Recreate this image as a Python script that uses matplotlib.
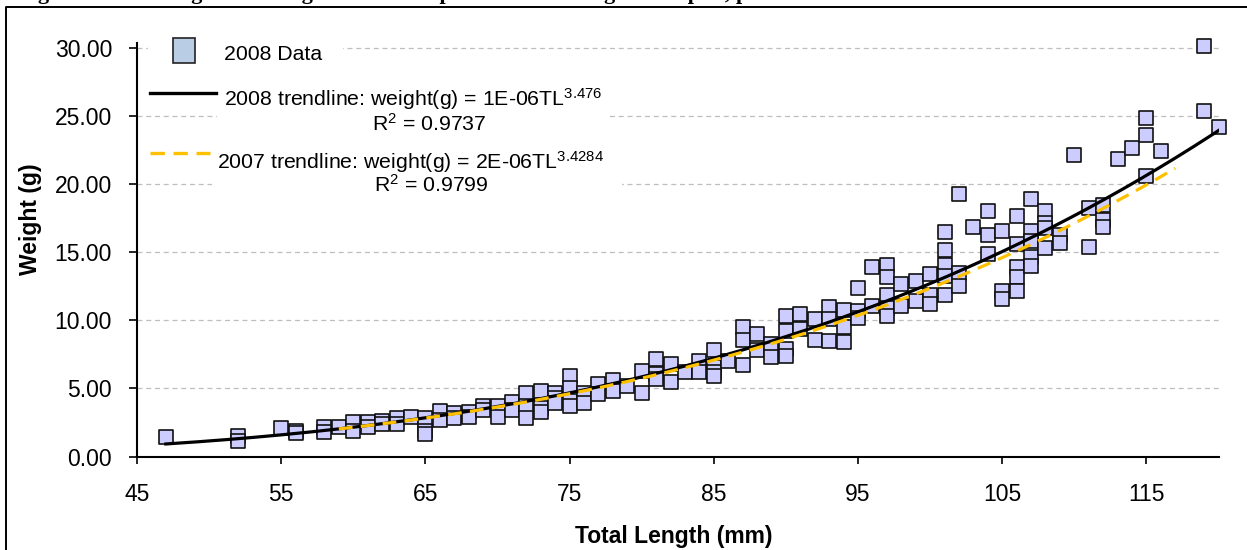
import matplotlib
matplotlib.use("Agg")
import matplotlib.pyplot as plt
import numpy as np
from matplotlib.patches import Rectangle
from matplotlib.lines import Line2D

plt.rcParams['font.family'] = ['Liberation Sans', 'DejaVu Sans']
plt.rcParams['mathtext.fontset'] = 'custom'
plt.rcParams['mathtext.rm'] = 'Liberation Sans'
plt.rcParams['mathtext.it'] = 'Liberation Sans'
plt.rcParams['mathtext.bf'] = 'Liberation Sans:bold'
plt.rcParams['mathtext.default'] = 'regular'

# ---------------- data ----------------
total_length_mm = [
    47, 52, 52, 55, 56, 56, 58, 58, 59, 60, 60, 61, 61, 62, 62, 63, 63, 64,
    65, 65, 65, 66, 66, 67, 67, 68, 68, 69, 69, 70, 70, 71, 71,
    72, 72, 72, 73, 73, 73, 74, 74, 74, 75, 75, 75, 75, 76, 76, 77, 77,
    78, 78, 79, 80, 80, 81, 81, 81, 82, 82, 83, 84, 84, 85, 85, 85, 85,
    86, 87, 87, 87, 88, 88, 89, 89, 90, 90, 90, 90, 91, 91, 92, 92,
    93, 93, 93, 94, 94, 94, 95, 95, 95, 96, 96, 97, 97, 97, 97, 97,
    98, 98, 99, 99, 100, 100, 100, 101, 101, 101, 101, 101, 102, 102, 102,
    103, 104, 104, 104, 105, 105, 105, 106, 106, 106, 106, 106,
    107, 107, 107, 107, 107, 108, 108, 108, 108, 109, 109, 110, 111, 111,
    112, 112, 112, 113, 114, 115, 115, 115, 116, 119, 119, 120,
]
weight_g = [
    1.47, 1.49, 1.17, 2.10, 1.90, 1.70, 2.20, 1.80, 2.15, 2.50, 1.90, 2.50, 2.20, 2.60, 2.40, 2.80, 2.40, 2.90,
    2.80, 1.90, 1.65, 3.35, 2.65, 3.20, 2.80, 3.30, 2.90, 3.70, 3.40, 3.70, 2.90, 4.00, 3.40,
    4.70, 3.70, 2.80, 4.80, 3.60, 3.25, 4.70, 4.30, 3.90, 5.90, 5.00, 4.10, 3.70, 4.70, 3.90, 5.30, 4.60,
    5.60, 4.80, 5.20, 6.30, 4.70, 7.20, 6.10, 5.70, 6.80, 5.50, 6.20, 7.00, 6.20, 7.80, 6.55, 6.20, 5.90,
    7.00, 9.50, 8.60, 6.70, 9.00, 7.80, 8.30, 7.30, 10.30, 9.20, 7.90, 7.40, 10.50, 9.40, 10.10, 8.60,
    11.00, 10.10, 8.50, 10.80, 9.50, 8.40, 12.40, 10.70, 10.20, 13.90, 11.10, 14.10, 13.20, 11.90, 10.95, 10.30,
    12.70, 11.10, 12.90, 11.40, 13.40, 11.90, 11.20, 16.50, 15.20, 14.10, 13.30, 11.90, 19.30, 13.50, 12.50,
    16.90, 18.05, 16.30, 14.90, 16.60, 12.20, 11.60, 17.70, 15.60, 13.90, 13.20, 12.20,
    18.90, 16.60, 15.85, 14.70, 14.00, 18.05, 17.20, 16.80, 15.30, 16.30, 15.70, 22.15, 18.30, 15.40,
    18.50, 17.40, 16.90, 21.90, 22.70, 24.90, 23.60, 20.60, 22.45, 30.20, 25.40, 24.20,
]

# power trendlines  weight = a * TL^b
trend_2008_a, trend_2008_b = 1.42e-6, 3.476
trend_2008_range = (47, 120)
trend_2007_a, trend_2007_b = 1.72e-6, 3.4284
trend_2007_range = (59, 117)

x_ticks = [45, 55, 65, 75, 85, 95, 105, 115]
y_ticks = [0, 5, 10, 15, 20, 25, 30]

label_data = "2008 Data"
label_2008 = "2008 trendline: weight(g) = 1E-06TL$^{3.476}$"
label_2008_r2 = "R$^{2}$ = 0.9737"
label_2007 = "2007 trendline: weight(g) = 2E-06TL$^{3.4284}$"
label_2007_r2 = "R$^{2}$ = 0.9799"

# ---------------- figure ----------------
W, H = 1247, 550
fig = plt.figure(figsize=(W / 100, H / 100), dpi=100)
fig.patch.set_facecolor('white')


def fx(x):
    return x / W


def fy(y):
    return 1 - y / H


ax = fig.add_axes([fx(137), fy(456.5), (1218.5 - 137) / W, (456.5 - 43) / H])
ax.set_xlim(45, 120)
ax.set_ylim(0, 30.4)
ax.set_xticks(x_ticks)
ax.set_yticks(y_ticks)
ax.set_yticklabels([f"{v:.2f}" for v in y_ticks])
ax.yaxis.grid(True, linestyle=(0, (4, 3)), color='#BEBEBE', linewidth=0.9)
ax.set_axisbelow(True)
for s in ['top', 'right']:
    ax.spines[s].set_visible(False)
for s in ['left', 'bottom']:
    ax.spines[s].set_linewidth(1.5)
    ax.spines[s].set_color('black')
ax.tick_params(axis='y', direction='out', length=6, width=1.2, pad=12, labelsize=16.5)
ax.tick_params(axis='x', direction='out', length=5, width=1.2, pad=14, labelsize=16.5)

ax.scatter(total_length_mm, weight_g, marker='s', s=10.5 ** 2, facecolor='#CCCCFF',
           edgecolor='#111111', linewidths=1.2, zorder=3, clip_on=False)

x08 = np.linspace(*trend_2008_range, 300)
ax.plot(x08, trend_2008_a * x08 ** trend_2008_b, color='black', lw=2.3, zorder=4)
x07 = np.linspace(*trend_2007_range, 300)
ax.plot(x07, trend_2007_a * x07 ** trend_2007_b, color='#FFC000', lw=2.3,
        linestyle=(0, (4.3, 2.6)), zorder=5)

ax.set_xlabel("Total Length (mm)", fontsize=16.5, fontweight='bold')
ax.xaxis.set_label_coords(0.5 - 4 / 1081.5, -(537 - 456.5) / 413.5)
ax.xaxis.label.set_va('center')
ax.set_ylabel("Weight (g)", fontsize=16.5, fontweight='bold')
ax.yaxis.set_label_coords(-(137 - 31) / 1081.5, (456.5 - 219) / 413.5)
ax.yaxis.label.set_va('center')

# ---------------- legend (manual, text boxes with white backgrounds) ----------------
tf = fig.transFigure
for (x0, x1, y0, y1) in [(148, 343, 36, 66), (217, 608, 84, 136), (212, 622, 146, 197)]:
    fig.patches.append(Rectangle((fx(x0), fy(y1)), (x1 - x0) / W, (y1 - y0) / H,
                                 transform=tf, facecolor='white', edgecolor='none', zorder=2))
fig.patches.append(Rectangle((fx(173), fy(62.5)), 22 / W, 25 / H, transform=tf,
                             facecolor='#B9CDE5', edgecolor='#222222', lw=1.2, zorder=3))
fig.lines.append(Line2D([fx(150), fx(216)], [fy(92.7), fy(92.7)], transform=tf,
                        color='black', lw=2.4, zorder=3))
fig.lines.append(Line2D([fx(150), fx(210)], [fy(153.3), fy(153.3)], transform=tf,
                        color='#FFC000', lw=2.4, linestyle=(0, (4.3, 2.6)), zorder=3))
fs = 15.3
fig.text(fx(224), fy(54), label_data, fontsize=fs, va='center', ha='left', zorder=4)
fig.text(fx(224), fy(99), label_2008, fontsize=fs, va='center', ha='left', zorder=4)
fig.text(fx(429), fy(124), label_2008_r2, fontsize=fs, va='center', ha='center', zorder=4)
fig.text(fx(217), fy(162), label_2007, fontsize=fs, va='center', ha='left', zorder=4)
fig.text(fx(431), fy(185), label_2007_r2, fontsize=fs, va='center', ha='center', zorder=4)

# chart border (left and top edges visible)
fig.lines.append(Line2D([fx(6), fx(6), fx(1250)], [fy(560), fy(7), fy(7)], transform=tf,
                        color='black', lw=1.4, zorder=5))

# caption above the chart (only its lowest part is inside the picture, as in the reference)
fig.text(fx(18), 1.0 + 1 / H,
         "Figure 3. Total length and weight relationship for the 2008 August samples, pooled",
         family=['Liberation Serif'], fontweight='bold', fontsize=16, va='baseline', ha='left')

fig.savefig("out.png", dpi=100)
